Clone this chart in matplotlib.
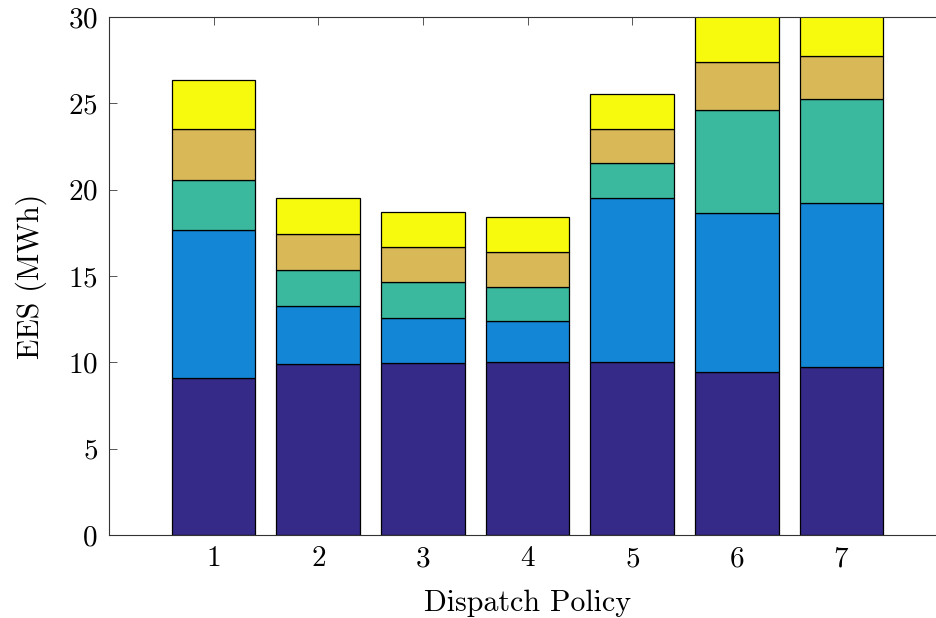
import matplotlib

matplotlib.use("Agg")
import matplotlib.pyplot as plt
import numpy as np

plt.rcParams["font.family"] = ["cmr10", "DejaVu Serif"]
plt.rcParams["mathtext.fontset"] = "cm"
plt.rcParams["axes.formatter.use_mathtext"] = True

# 策略编号与各段能量 (MWh)，自下而上堆叠
POLICIES = [1, 2, 3, 4, 5, 6, 7]
SEG1 = [9.09, 9.90, 9.96, 10.02, 10.02, 9.44, 9.73]
SEG2 = [8.57, 3.36, 2.61, 2.37, 9.49, 9.21, 9.49]
SEG3 = [2.90, 2.08, 2.08, 1.97, 2.03, 5.96, 6.03]
SEG4 = [2.95, 2.09, 2.03, 2.03, 1.97, 2.78, 2.49]
SEG5 = [2.84, 2.08, 2.02, 2.02, 2.03, 2.90, 2.80]
SEGS = [SEG1, SEG2, SEG3, SEG4, SEG5]
COLORS = ["#352a87", "#1486d6", "#3ab99e", "#d9b957", "#f8fa0d"]

fig = plt.figure(figsize=(9.36, 6.18), dpi=100)
# 右侧边框在画布外（原图右边被裁掉）
ax = fig.add_axes([109 / 936, 83 / 618, 837 / 936, 518 / 618])

x = np.array(POLICIES)
bottom = np.zeros(len(x))
for seg, col in zip(SEGS, COLORS):
    ax.bar(x, seg, 0.8, bottom=bottom, color=col, edgecolor="black", linewidth=0.9, zorder=2)
    bottom += np.array(seg)

ax.set_xlim(0, 8)
ax.set_ylim(0, 30)
ax.set_xticks(POLICIES)
ax.set_yticks([0, 5, 10, 15, 20, 25, 30])
ax.tick_params(direction="in", length=6, width=0.7, color="#555555", labelsize=21,
               right=True, top=True, pad=8)
for s in ax.spines.values():
    s.set_linewidth(0.8)
    s.set_color("#333333")
ax.set_xlabel("Dispatch Policy", fontsize=21.6, labelpad=12)
ax.set_ylabel("EES (MWh)", fontsize=21.6, labelpad=15)

fig.savefig("out.png", dpi=100)
